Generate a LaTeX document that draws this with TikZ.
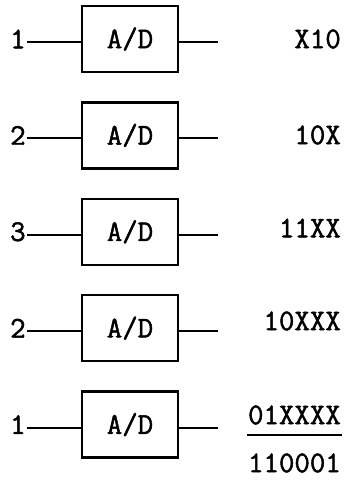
\documentclass[tikz,border=0pt]{standalone}
\usepackage{fontspec}
\newfontfamily\typefont{Latin Modern Mono}[FakeBold=1.6]
\usetikzlibrary{positioning}

\tikzset{
  adc/.style={draw, rectangle, line width=2.4pt, minimum width=96pt,
              minimum height=66pt, inner sep=0pt},
  txt/.style={inner sep=1pt},
  wire/.style={line width=2pt},
}

\begin{document}
\begin{tikzpicture}[x=1pt,y=-1pt,font=\typefont\fontsize{30}{32}\selectfont]
      \useasboundingbox (0,0) rectangle (344,487);
      % converters
      \node[adc]  (box0)  at (130,39)                {A/D};
      \node[adc]  (box1)  [below=28pt of box0]       {A/D};
      \node[adc]  (box2)  [below=28pt of box1]       {A/D};
      \node[adc]  (box3)  [below=28pt of box2]       {A/D};
      \node[adc]  (box4)  [below=28pt of box3]       {A/D};

      % inputs
      \node[txt]  (in0)   [left=54pt of box0]        {1};
      \node[txt]  (in1)   [left=54pt of box1]        {2};
      \node[txt]  (in2)   [left=54pt of box2]        {3};
      \node[txt]  (in3)   [left=54pt of box3]        {2};
      \node[txt]  (in4)   [left=54pt of box4]        {1};

      % outputs
      \node[txt,anchor=east]  (out0) at (342,39)     {X10};
      \node[txt,anchor=east]  (out1) at (342,135)    {10X};
      \node[txt,anchor=east]  (out2) at (342,228)    {11XX};
      \node[txt,anchor=east]  (out3) at (342,321)    {10XXX};
      \node[txt,anchor=east]  (out4) at (342,415)    {01XXXX};
      \node[txt,anchor=east]  (sum)  at (342,463)    {110001};

      \foreach \i in {0,...,4}{
        \coordinate (end\i) at ([xshift=39pt]box\i.east);
        \draw[wire] ([yshift=-3pt]in\i.east) -- ([yshift=-3pt]box\i.west);
        \draw[wire] ([yshift=-3pt]box\i.east) -- ([yshift=-3pt]end\i);
      }
      \draw[wire] ([yshift=-20pt]out4.west) -- ([yshift=-20pt]out4.east);
\end{tikzpicture}
\end{document}
